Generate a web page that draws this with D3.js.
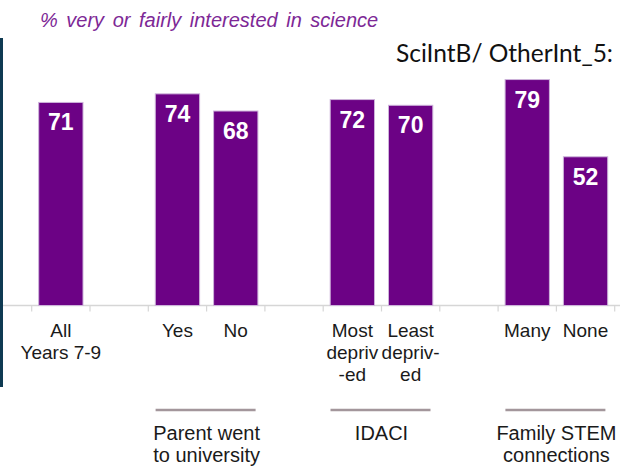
<!DOCTYPE html>
<html>
<head>
<meta charset="utf-8">
<script src="https://cdn.jsdelivr.net/npm/d3@7"></script>
<style>
  html, body { margin: 0; padding: 0; background: #ffffff; }
  svg { display: block; }
</style>
</head>
<body>
<svg id="chart" width="620" height="468"></svg>
<script>
// ---- data ----
const slots = ["All", "gap1", "Yes", "No", "gap2", "Most", "Least", "gap3", "Many", "None"];
const categories = ["All", "Yes", "No", "Most", "Least", "Many", "None"];
const values = [71, 74, 68, 72, 70, 79, 52];
const categoryLabels = [
  ["All", "Years 7-9"],
  ["Yes"],
  ["No"],
  ["Most", "depriv", "-ed"],
  ["Least", "depriv-", "ed"],
  ["Many"],
  ["None"]
];
const groupNames = [["Parent went", "to university"], ["IDACI"], ["Family STEM", "connections"]];
const groupMembers = [["Yes", "No"], ["Most", "Least"], ["Many", "None"]];
const title = "% very or fairly interested in science";
const sourceNote = "SciIntB/ OtherInt_5:";

// ---- layout ----
const svg = d3.select("#chart");
const purple = "#6c0285";
const baseY = 305.5;

const x = d3.scaleBand().domain(slots).range([31.7, 614.7]).paddingInner(0.24).paddingOuter(0.12);
const y = d3.scaleLinear().domain([0, 100]).range([baseY, 19.5]);
const step = x.step();

// left dark rule
svg.append("line").attr("x1", 1.5).attr("x2", 1.5).attr("y1", 38).attr("y2", 387)
  .attr("stroke", "#0e3a52").attr("stroke-width", 3);

// title
svg.append("text").attr("x", 40).attr("y", 27)
  .attr("font-family", "Liberation Sans, Arial, sans-serif").attr("font-style", "italic")
  .attr("font-size", 20).attr("word-spacing", 3).attr("fill", "#7d2896").text(title);

// source note
svg.append("text").attr("x", 396).attr("y", 62)
  .attr("font-family", "Lato, sans-serif").attr("font-size", 25)
  .attr("textLength", 217).attr("lengthAdjust", "spacingAndGlyphs")
  .attr("fill", "#111").text(sourceNote);

// x axis
const axisG = svg.append("g").attr("transform", `translate(0,${baseY})`);
axisG.append("line").attr("x1", 3).attr("x2", 620).attr("y1", 0).attr("y2", 0)
  .attr("stroke", "#d6d6d6").attr("stroke-width", 1.5);
const tickXs = slots.map(s => x(s) - step * x.paddingInner() / 2).concat([x(slots[slots.length - 1]) + x.bandwidth() + step * x.paddingInner() / 2]);
axisG.selectAll("line.tick").data(tickXs).join("line").attr("class", "tick")
  .attr("x1", d => d).attr("x2", d => d).attr("y1", 0).attr("y2", 6)
  .attr("stroke", "#d6d6d6").attr("stroke-width", 1.2);

// bars
const data = categories.map((c, i) => ({ c, v: values[i], lab: categoryLabels[i] }));
svg.selectAll("rect.bar").data(data).join("rect").attr("class", "bar")
  .attr("x", d => x(d.c)).attr("width", x.bandwidth())
  .attr("y", d => y(d.v)).attr("height", d => baseY - y(d.v))
  .attr("fill", purple).attr("stroke", "#cdb3da").attr("stroke-width", 1);

// value labels
svg.selectAll("text.val").data(data).join("text").attr("class", "val")
  .attr("x", d => x(d.c) + x.bandwidth() / 2).attr("y", d => y(d.v) + 28)
  .attr("text-anchor", "middle").attr("font-family", "Liberation Sans, Arial, sans-serif")
  .attr("font-weight", "bold").attr("font-size", 23).attr("fill", "#ffffff")
  .text(d => d.v);

// category labels
const catG = svg.selectAll("text.cat").data(data).join("text").attr("class", "cat")
  .attr("text-anchor", "middle").attr("font-family", "Liberation Sans, Arial, sans-serif")
  .attr("font-size", 19).attr("fill", "#1a1a1a");
catG.selectAll("tspan").data(d => d.lab.map(t => ({ t, cx: x(d.c) + x.bandwidth() / 2 }))).join("tspan")
  .attr("x", d => d.cx).attr("y", (d, i) => 336.5 + i * 22).text(d => d.t);

// group separators and labels
groupNames.forEach((g, i) => {
  const m = groupMembers[i];
  const cx = (x(m[0]) + x(m[m.length - 1]) + x.bandwidth()) / 2;
  svg.append("line").attr("x1", cx - 51).attr("x2", cx + 49).attr("y1", 410).attr("y2", 410)
    .attr("stroke", "#a3969b").attr("stroke-width", 2.5);
  const t = svg.append("text").attr("text-anchor", "middle")
    .attr("font-family", "Liberation Sans, Arial, sans-serif").attr("font-size", 20).attr("fill", "#1a1a1a");
  g.forEach((line, j) => {
    t.append("tspan").attr("x", cx).attr("y", 440 + j * 22).text(line);
  });
});
</script>
</body>
</html>
